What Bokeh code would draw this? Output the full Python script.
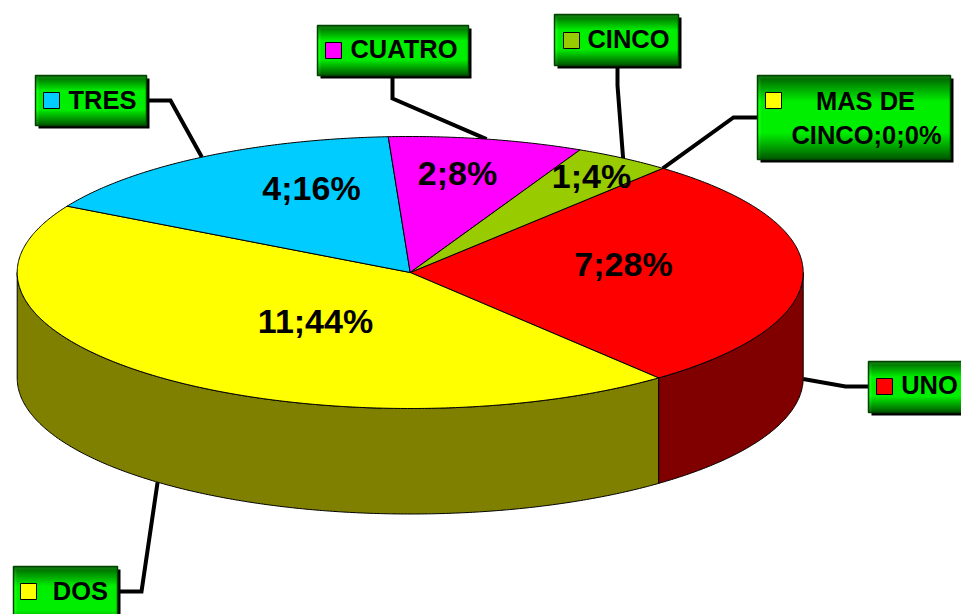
import math
from bokeh.plotting import figure
from bokeh.models import Range1d
from bokeh.core.properties import value
from bokeh.embed import file_html
from bokeh.resources import INLINE

# ---- data ----
categories = ["UNO", "DOS", "TRES", "CUATRO", "CINCO", "MAS DE CINCO"]
counts = [7, 11, 4, 2, 1, 0]
data_labels = ["7;28%", "11;44%", "4;16%", "2;8%", "1;4%", ""]
top_colors = ["#ff0000", "#ffff00", "#00ccff", "#ff00ff", "#99cc00", "#ffff00"]
wall_colors = ["#800000", "#808000", "#006680", "#800080", "#4d6600", "#808000"]

# ---- layout ----
W, H = 961, 614
CX, CY, RX, RY, DEPTH = 409.7, 272, 393, 136, 105.5
START = 310.0
FONT = value("Liberation Sans")
label_pos = [(623, 263), (315, 320), (311, 187), (457, 172), (591, 175)]
# left, right, top, bottom, swatch-left, swatch-mid-y
boxes = [
    (868, 975, 361, 412, 876, 386),
    (13, 117, 566, 630, 20, 591),
    (35, 146, 75, 125, 43, 100),
    (317, 468, 25, 75, 325, 50),
    (554, 678, 14, 65, 563, 40),
    (757, 950, 75, 159, 765, 100),
]
box_text = [
    [("UNO", 929, 384.5)],
    [("DOS", 80, 590)],
    [("TRES", 102, 99)],
    [("CUATRO", 403.5, 48.5)],
    [("CINCO", 628, 38)],
    [("MAS DE", 865, 100), ("CINCO;0;0%", 866, 134)],
]
# first bend nearest the box, second bend, and whether the line ends on the wall
leader_start = [(868, 386), (118, 591), (146, 100), (392, 75), (617, 65), (757, 117)]
leader_bend = [(845, 386), (141, 591), (170, 100), (392, 98), (617, 85), (733, 117)]
leader_on_wall = [True, True, False, False, False, False]


def px(t):
    return CX + RX * math.cos(math.radians(t))


def py(t):
    return CY + RY * math.sin(math.radians(t))


total = sum(counts)
p = figure(width=W, height=H, x_range=Range1d(0, W), y_range=Range1d(H, 0),
           output_backend="svg", toolbar_location=None, min_border=0,
           background_fill_color="white",
           border_fill_color="white", outline_line_color=None)
p.axis.visible = False
p.grid.visible = False

# slice spans
spans = []
a = START
for c in counts:
    b = a + 360.0 * c / total
    spans.append((a, b))
    a = b


def arc(a0, a1):
    n = max(2, int(abs(a1 - a0) * 2) + 1)
    return [a0 + (a1 - a0) * i / (n - 1) for i in range(n)]


# leader lines (under the pie)
lx, ly = [], []
for i, (a0, a1) in enumerate(spans):
    mid = (a0 + a1) / 2
    ex, ey = px(mid), py(mid) + (DEPTH if leader_on_wall[i] else 0)
    s, m = leader_start[i], leader_bend[i]
    lx.append([s[0], m[0], ex])
    ly.append([s[1], m[1], ey])
p.multi_line(lx, ly, line_color="black", line_width=4, line_join="miter")

# side walls
for i, (a0, a1) in enumerate(spans):
    lo, hi = max(a0, 360), min(a1, 540)
    if hi <= lo:
        continue
    ts = arc(lo, hi)
    xs = [px(t) for t in ts]
    top = [py(t) for t in ts]
    bot = [y + DEPTH for y in top]
    p.patch(xs + xs[::-1], top + bot[::-1], fill_color=wall_colors[i],
            line_color="black", line_width=1)

# top faces
for i, (a0, a1) in enumerate(spans):
    if a1 <= a0:
        continue
    ts = arc(a0, a1)
    p.patch([CX] + [px(t) for t in ts], [CY] + [py(t) for t in ts],
            fill_color=top_colors[i], line_color="black", line_width=1)

# data labels on the pie
for txt, (x, y) in zip(data_labels, label_pos):
    p.text([x], [y], text=[txt], text_font=FONT, text_font_size="34px",
           text_font_style="bold", text_align="center", text_baseline="middle",
           text_color="black")


def green(f):
    # f is 0 at the box's edge and 1 at its middle
    return "#00%02x00" % int(round(0x60 + (0xff - 0x60) * f))


# label boxes
for i, (l, r, t, b, sl, sy) in enumerate(boxes):
    p.quad(left=[l + 3], right=[r + 3], top=[t + 3], bottom=[b + 3],
           fill_color="black", line_color=None)
    h = min(b, 51 + t if i != 5 else b) - t
    ql, qr, qt, qb, qc = [], [], [], [], []
    for k in range(b - t):
        f = 1 - abs((k + 0.5) / (b - t) - 0.5) * 2
        ql.append(l); qr.append(r); qt.append(t + k); qb.append(t + k + 1)
        qc.append(green(min(1.0, f * 1.6)))
    p.quad(left=ql, right=qr, top=qt, bottom=qb, fill_color=qc, line_color=qc, line_width=0.5)
    p.quad(left=[l], right=[r], top=[t], bottom=[b], fill_color=None,
           line_color="#004400", line_width=1.5)
    p.quad(left=[sl], right=[sl + 16], top=[sy - 8], bottom=[sy + 8],
           fill_color=top_colors[i], line_color="black", line_width=1)
    for txt, x, y in box_text[i]:
        p.text([x], [y], text=[txt], text_font=FONT, text_font_size="25.5px",
               text_font_style="bold", text_align="center", text_baseline="middle",
               text_color="black")

open("out.html", "w").write(file_html(p, INLINE))
